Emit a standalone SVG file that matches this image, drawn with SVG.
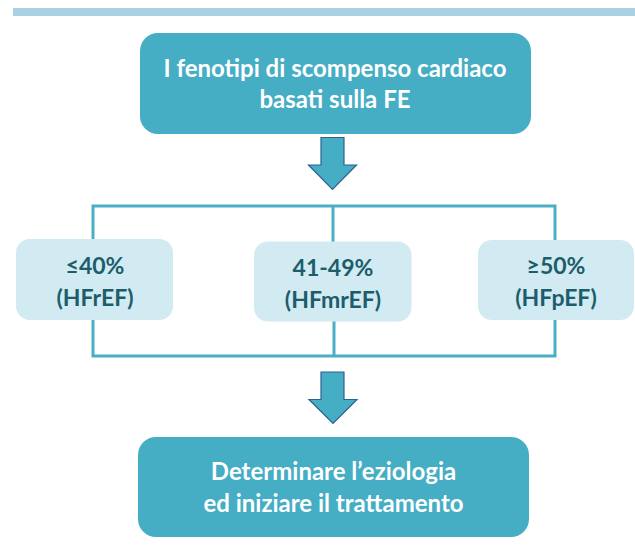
<svg xmlns="http://www.w3.org/2000/svg" width="635" height="549" viewBox="0 0 635 549">
<defs>
<style>
.main{fill:#45adc4}
.sub{fill:#d2eaf1}
.wt{fill:#ffffff;font-family:Lato,"Liberation Sans",sans-serif;font-weight:bold;font-size:24px;text-anchor:middle}
.dt{fill:#1c5d6c;font-family:Lato,"Liberation Sans",sans-serif;font-weight:bold;font-size:23px;text-anchor:middle}
.ln{stroke:#4aafc6;stroke-width:3;fill:none}
.arr{fill:#45adc4;stroke:#2f6190;stroke-width:1.2}
</style>
</defs>
<rect x="13" y="8" width="622" height="8" fill="#a9d1e3"/>
<g id="connectors">
<polyline class="ln" points="93,241 93,206 555,206 555,241"/>
<line class="ln" x1="333" y1="206" x2="333" y2="242"/>
<polyline class="ln" points="93,320 93,356 555,356 555,320"/>
<line class="ln" x1="334" y1="321" x2="334" y2="356"/>
<path class="arr" d="M321,137.5 H344 V165 H356.5 L332.5,189.5 L308.5,165 H321 Z"/>
<path class="arr" d="M321,372 H344 V399.5 H357 L333,423.5 L309,399.5 H321 Z"/>
</g>
<g id="top">
<rect class="main" x="140" y="33" width="391" height="101" rx="18"/>
<text class="wt" x="335" y="77">I fenotipi di scompenso cardiaco</text>
<text class="wt" x="335" y="108">basati sulla FE</text>
</g>
<g id="hfref">
<rect class="sub" x="16" y="239" width="157" height="81" rx="14"/>
<text class="dt" x="95" y="274">≤40%</text>
<text class="dt" x="95" y="306">(HFrEF)</text>
</g>
<g id="hfmref">
<rect class="sub" x="254" y="241.5" width="157.5" height="80" rx="14"/>
<text class="dt" x="333" y="276">41-49%</text>
<text class="dt" x="333" y="308">(HFmrEF)</text>
</g>
<g id="hfpef">
<rect class="sub" x="478" y="240" width="156" height="80" rx="14"/>
<text class="dt" x="556" y="274">≥50%</text>
<text class="dt" x="556" y="306">(HFpEF)</text>
</g>
<g id="bottom">
<rect class="main" x="138" y="437" width="391" height="100" rx="18"/>
<text class="wt" x="333.5" y="480">Determinare l’eziologia</text>
<text class="wt" x="333.5" y="512">ed iniziare il trattamento</text>
</g>
</svg>
